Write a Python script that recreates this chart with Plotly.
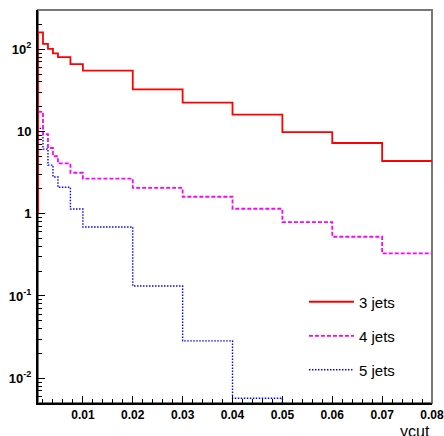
import math
import plotly.graph_objects as go

# ---- data ----
bin_edges = [0.001, 0.002, 0.003, 0.004, 0.005, 0.0075, 0.01,
             0.02, 0.03, 0.04, 0.05, 0.06, 0.07, 0.08]
jets3 = [160, 116, 101, 89, 80, 66, 55, 32.6, 22.4, 16.0, 9.8, 7.25, 4.38]
jets4 = [17.3, 9.3, 6.3, 5.0, 4.1, 3.15, 2.67, 2.06, 1.61, 1.15, 0.79, 0.525, 0.33]
jets5 = [10.9, 6.1, 3.9, 2.8, 2.1, 1.14, 0.69, 0.132, 0.0285, 0.0057, 0, 0, 0]
start_level = 1          # level the histogram outline rises from at the first edge
series_names = ["3 jets", "4 jets", "5 jets"]

x_tick_vals = [0.01, 0.02, 0.03, 0.04, 0.05, 0.06, 0.07, 0.08]
x_tick_text = ["0.01", "0.02", "0.03", "0.04", "0.05", "0.06", "0.07", "0.08"]
y_tick_vals = [0.01, 0.1, 1, 10, 100]
y_tick_text = ["10<sup>-2</sup>", "10<sup>-1</sup>", "1", "10", "10<sup>2</sup>"]

y_min, y_max = 0.005, 300
x_min, x_max = 0.001, 0.08
y_floor = 1e-3   # empty bins are drawn on the floor of the frame (below range)


def outline(values):
    ys = [v if v > 0 else y_floor for v in values]
    xs = [bin_edges[0]] + bin_edges
    ys = [start_level] + ys + [ys[-1]]
    return xs, ys


styles = [
    dict(color="#ff0000", width=1.8, dash="solid"),
    dict(color="#ff00ff", width=1.8, dash="4px,2px"),
    dict(color="#0000ff", width=1.4, dash="1.5px,1.5px"),
]
legend_ids = ["legend", "legend2", "legend3"]

fig = go.Figure()
order = [2, 1, 0]
all_vals = [jets3, jets4, jets5]
for i in order:
    xs, ys = outline(all_vals[i])
    fig.add_trace(go.Scatter(
        x=xs, y=ys, mode="lines", line_shape="hv",
        line=styles[i], name=series_names[i], legend=legend_ids[i],
        hoverinfo="skip",
    ))

minor_y = [k * 10 ** e for e in range(-3, 3) for k in range(2, 10)]
minor_y = [v for v in minor_y if y_min <= v <= y_max]

tick_font = dict(family="Liberation Sans", size=12, color="black", weight="bold")

fig.update_xaxes(
    range=[x_min, x_max + 1e-7], tickmode="array", tickvals=x_tick_vals,
    ticktext=x_tick_text, ticks="inside", ticklen=7, tickwidth=1, tickcolor="black",
    minor=dict(ticks="inside", ticklen=4, tickwidth=1, tickcolor="black",
               dtick=0.002, tick0=0, showgrid=False),
    showline=True, linecolor="black", linewidth=2, showgrid=False, zeroline=False,
    tickfont=tick_font, ticklabeloverflow="allow", automargin=False,
)
fig.update_yaxes(
    type="log", range=[math.log10(y_min), math.log10(y_max)],
    tickmode="array", tickvals=y_tick_vals, ticktext=y_tick_text,
    ticks="inside", ticklen=7, tickwidth=1, tickcolor="black",
    minor=dict(ticks="inside", ticklen=4, tickwidth=1, tickcolor="black",
               tickmode="array", tickvals=minor_y, showgrid=False),
    showline=True, linecolor="black", linewidth=2, showgrid=False, zeroline=False,
    tickfont=dict(family="Liberation Sans", size=13, color="black", weight="bold"),
    ticklabelstandoff=2, automargin=False,
)

fig.add_shape(type="rect", xref="paper", yref="paper", x0=0, x1=1, y0=0, y1=1,
              line=dict(color="#777777", width=2), layer="below")

legend_font = dict(family="Liberation Sans", size=15, color="black")
leg_y = [0.257, 0.170, 0.084]
layout_legends = {}
for lid, ly in zip(legend_ids, leg_y):
    layout_legends[lid] = dict(x=0.675, y=ly, xanchor="left", yanchor="middle",
                               bgcolor="rgba(0,0,0,0)", font=legend_font,
                               itemwidth=45)

fig.add_annotation(text="ycut", xref="paper", yref="paper", x=1, y=0,
                   xanchor="right", yanchor="top", yshift=-18, showarrow=False,
                   font=dict(family="Liberation Sans", size=16, color="black"))

fig.update_layout(
    width=444, height=436, margin=dict(l=38, r=12, t=10, b=33, autoexpand=False),
    plot_bgcolor="white", paper_bgcolor="white", showlegend=True,
    **layout_legends,
)

fig.write_html("out.html", config={"displayModeBar": False},
               post_script="document.body.style.margin='0';"
                           "document.body.style.overflow='hidden';")
